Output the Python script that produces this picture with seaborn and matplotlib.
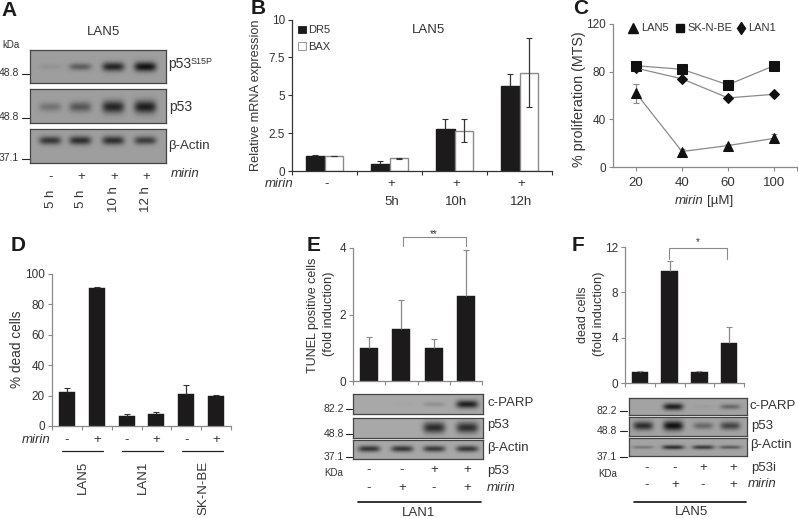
import numpy as np
import pandas as pd
import matplotlib
matplotlib.use('Agg')
import matplotlib.pyplot as plt
from matplotlib.lines import Line2D
from matplotlib.patches import Patch
import seaborn as sns

# panel B
b_groups = ['ctrl', '5h', '10h', '12h']
b_dr5 = [1.0, 0.45, 2.75, 5.6]
b_dr5_err = [0.04, 0.22, 0.65, 0.8]
b_bax = [1.0, 0.85, 2.65, 6.5]
b_bax_err = [0.02, 0.03, 0.75, 2.3]
b_signs = ['-', '+', '+', '+']
b_times = ['', '5h', '10h', '12h']

# panel C
c_doses = ['20', '40', '60', '100']
c_lan5 = [62, 13, 18, 24]
c_lan5_err = [8, 2, 1.5, 4]
c_sknbe = [85, 82, 69, 85]
c_lan1 = [83, 74, 58, 61]

# panel D
d_bars = ['LAN5-', 'LAN5+', 'LAN1-', 'LAN1+', 'SK-', 'SK+']
d_vals = [22.5, 91, 6.5, 8, 21, 20]
d_err = [2.5, 0.7, 1.5, 1.5, 6, 0.2]
d_signs = ['-', '+', '-', '+', '-', '+']
d_lines = ['LAN5', 'LAN1', 'SK-N-BE']

# panel E and F
e_bars = ['a', 'b', 'c', 'd']
e_vals = [1, 1.55, 1, 2.55]
e_err = [0.32, 0.9, 0.25, 1.4]
f_vals = [1, 9.9, 1, 3.5]
f_err = [0.05, 0.9, 0.05, 1.45]
top_signs = ['-', '-', '+', '+']
low_signs = ['-', '+', '-', '+']

# band strength per lane for the blots
a_p53s15 = [0.08, 0.45, 0.85, 0.98]
a_p53 = [0.3, 0.5, 0.85, 0.9]
a_actin = [0.72, 0.78, 0.78, 0.68]
a_times = ['5 h', '5 h', '10 h', '12 h']
a_signs = ['-', '+', '+', '+']
e_parp = [0.0, 0.02, 0.15, 0.9]
e_p53 = [0.0, 0.0, 0.82, 0.8]
e_actin = [0.75, 0.75, 0.72, 0.75]
f_parp = [0.0, 0.9, 0.05, 0.4]
f_p53 = [0.8, 1.0, 0.4, 0.65]
f_actin = [0.3, 0.8, 0.72, 0.5]

W, H = 799, 518
DARK = '#1c1a1b'
GREY = '#8a8a8a'
TXT = '#333333'

sns.set_style('ticks')
plt.rcParams['font.family'] = ['Liberation Sans', 'DejaVu Sans']
plt.rcParams['font.size'] = 8.5
fig = plt.figure(figsize=(W / 100, H / 100), dpi=100, facecolor='white')


def T(x, y, s, size=8.5, ha='center', va='center', **kw):
    kw.setdefault('color', TXT)
    fig.text(x / W, 1 - y / H, s, fontsize=size, ha=ha, va=va, **kw)


def L(xs, ys, color='#222222', lw=0.8):
    fig.add_artist(Line2D([x / W for x in xs], [1 - y / H for y in ys], color=color, lw=lw))


def axes_px(x0, x1, ytop, ybot):
    ax = fig.add_axes([x0 / W, 1 - ybot / H, (x1 - x0) / W, (ybot - ytop) / H])
    ax.patch.set_alpha(0)
    sns.despine(ax=ax)
    for side in ['left', 'bottom']:
        ax.spines[side].set_color(GREY)
        ax.spines[side].set_linewidth(0.9)
    ax.tick_params(length=3, width=0.8, color=GREY, labelsize=8.5, labelcolor=TXT, pad=2)
    return ax


def up_err(ax, xs, vals, errs, color, lw=0.9):
    # only the upper cap, like the figure
    _, caps, _ = ax.errorbar(xs, vals, yerr=[[0] * len(errs), errs], fmt='none',
                             ecolor=color, elinewidth=lw, capsize=2.5, capthick=0.8)
    caps[0].remove()


def bars(ax, names, vals, errs, width, err_color='#333333'):
    df = pd.DataFrame({'name': names, 'val': vals})
    sns.barplot(data=df, x='name', y='val', color=DARK, saturation=1, width=width,
                edgecolor=DARK, linewidth=0.3, ax=ax, errorbar=None)
    up_err(ax, range(len(names)), vals, errs, err_color)
    ax.set_xlim(-0.5, len(names) - 0.5)
    ax.set_xlabel('')
    ax.set_ylabel('')
    ax.set_xticks(np.arange(len(names) + 1) - 0.5)
    ax.set_xticklabels([])


def blot(x0, x1, ytop, ybot, lanes, strengths, sy, sx=11, yc=0.5, bg=0.62):
    h, w = int(ybot - ytop) * 2, int(x1 - x0) * 2
    yy, xx = np.mgrid[0:h, 0:w]
    xx = xx / 2 + x0
    yy = yy / 2 + ytop
    img = np.zeros((h, w))
    yc_px = ytop + yc * (ybot - ytop)
    for lane, s in zip(lanes, strengths):
        # stronger bands look thicker
        band_y = sy * (0.6 + 0.6 * s)
        img += s * np.exp(-((xx - lane) / sx) ** 4 - ((yy - yc_px) / band_y) ** 2)
    img = bg * (1 - 0.9 * np.clip(img, 0, 1))
    ax = fig.add_axes([x0 / W, 1 - ybot / H, (x1 - x0) / W, (ybot - ytop) / H])
    ax.imshow(img, cmap='gray', vmin=0, vmax=1, aspect='auto', interpolation='bilinear')
    ax.set_xticks([])
    ax.set_yticks([])
    for sp in ax.spines.values():
        sp.set_visible(True)
        sp.set_color('#444444')
        sp.set_linewidth(0.9)


# panel letters
for x, y, s in [(1, 10, 'A'), (251, 8, 'B'), (573, 8, 'C'), (11, 246, 'D'), (307, 246, 'E'), (572, 246, 'F')]:
    T(x, y, s, size=15, ha='left', fontweight='bold', color='#1a1a1a')

# A
a_lanes = [50, 80, 113, 145]
blot(30, 166, 50, 83, a_lanes, a_p53s15, 4, yc=0.5)
blot(30, 166, 89, 123, a_lanes, a_p53, 5.5, yc=0.52)
blot(30, 166, 129, 163, a_lanes, a_actin, 4, yc=0.33)
T(103, 32, 'LAN5', size=9.5)
T(2, 45, 'kDa', size=7, ha='left')
for y, s in [(73, '48.8'), (117, '48.8'), (158, '37.1')]:
    T(19, y, s, size=7.5, ha='right')
    L([22, 29], [y + 1, y + 1], lw=0.8)
T(168, 64, 'p53', size=10, ha='left')
T(191, 61, 'S15P', size=6.5, ha='left')
T(169, 107, 'p53', size=10, ha='left')
T(168, 146, 'β-Actin', size=9.5, ha='left')
T(171, 174, 'mirin', size=9.5, ha='left', style='italic')
for lane, sign, t in zip(a_lanes, a_signs, a_times):
    T(lane + 1, 177, sign, size=9.5)
    T(lane + 1, 199, t, size=9.5, rotation=90)

# B
ax = axes_px(292, 552, 19.5, 171)
long_b = pd.DataFrame({'group': b_groups * 2, 'val': b_dr5 + b_bax,
                       'gene': ['DR5'] * 4 + ['BAX'] * 4})
sns.barplot(data=long_b, x='group', y='val', hue='gene', palette={'DR5': DARK, 'BAX': 'white'},
            saturation=1, width=0.575, edgecolor=GREY, linewidth=1, errorbar=None, legend=False, ax=ax)
for p in ax.containers[0]:
    p.set_edgecolor(DARK)
xs = np.arange(4)
up_err(ax, xs - 0.144, b_dr5, b_dr5_err, '#333333')
ax.errorbar(xs + 0.144, b_bax, yerr=b_bax_err, fmt='none', ecolor='#333333',
            elinewidth=0.9, capsize=2.5, capthick=0.8)
ax.set_xlim(-0.5, 3.5)
ax.set_ylim(0, 10)
ax.set_xlabel('')
ax.set_ylabel('')
ax.set_xticks(np.arange(5) - 0.5)
ax.set_xticklabels([])
ax.set_yticks([0, 2.5, 5, 7.5, 10])
ax.set_yticklabels(['0', '2.5', '5', '7.5', '10'])
ax.spines['left'].set_color('#333333')
ax.spines['bottom'].set_color('#333333')
ax.tick_params(color='#333333')
ax.legend(handles=[Patch(facecolor=DARK, edgecolor=DARK, linewidth=0.6, label='DR5'),
                   Patch(facecolor='white', edgecolor=GREY, linewidth=0.6, label='BAX')],
          loc='upper left', bbox_to_anchor=(0.005, 0.99), frameon=False, fontsize=8, labelcolor=TXT,
          handlelength=0.7, handleheight=0.7, handletextpad=0.25, labelspacing=0.6, borderpad=0.2, borderaxespad=0.2)
T(429, 30, 'LAN5', size=9.5)
T(256, 95, 'Relative mRNA expression', size=9.2, rotation=90)
T(279, 184, 'mirin', size=9.5, style='italic', ha='center')
for i, (sign, t) in enumerate(zip(b_signs, b_times)):
    cx = 324.5 + 65 * i
    T(cx + 2, 184, sign, size=9.5)
    T(cx + 2, 202, t, size=9.5)

# C
ax = axes_px(613, 797, 24, 167)
for vals, marker, size in [(c_lan5, '^', 7), (c_sknbe, 's', 6.5), (c_lan1, 'D', 5)]:
    sns.lineplot(x=c_doses, y=vals, sort=False, color=GREY, linewidth=0.9, marker=marker,
                 markersize=size, markerfacecolor='#111111', markeredgecolor='#111111', ax=ax, errorbar=None)
ax.errorbar(c_doses, c_lan5, yerr=c_lan5_err, fmt='none', ecolor=GREY, elinewidth=0.9, capsize=2.5, capthick=0.8, zorder=1)
ax.set_xlim(-0.5, 3.5)
ax.set_ylim(0, 120)
ax.set_xticks([0, 1, 2, 3, 3.5])
ax.set_xticklabels(c_doses + [''])
ax.set_yticks([0, 40, 80, 120])
ax.tick_params(axis='x', labelsize=9.5, pad=4)
ax.tick_params(axis='y', labelsize=8.5)
ax.set_ylabel('')
T(579, 99, '% proliferation (MTS)', size=10.3, rotation=90)
T(689, 201, 'mirin', size=9.5, style='italic')
T(720, 201, '[µM]', size=9.5)
for m, s, x_m, x_t, name in zip(['^', 's', 'd'], [6.5, 6, 6], [633, 680, 741], [641, 687, 748],
                                ['LAN5', 'SK-N-BE', 'LAN1']):
    fig.add_artist(Line2D([x_m / W], [1 - 28 / H], ls='', marker=m, color='#111111', markersize=s))
    T(x_t, 28, name, size=8, ha='left')

# D
ax = axes_px(52, 231, 274, 426)
bars(ax, d_bars, d_vals, d_err, 0.54)
ax.set_ylim(0, 100)
ax.set_yticks(range(0, 101, 20))
T(17, 349, '% dead cells', size=9.8, rotation=90)
T(36, 440, 'mirin', size=9.5, style='italic')
for i, sign in enumerate(d_signs):
    T(67 + 29.8 * i, 440, sign, size=9.5)
for i, name in enumerate(d_lines):
    L([62 + 60 * i, 103 + 60 * i], [451, 451], lw=0.9)
    T(83 + 60 * i, 461, name, size=9.5, rotation=90, va='top')

# E
ax = axes_px(353, 482, 248, 381)
bars(ax, e_bars, e_vals, e_err, 0.56, err_color=GREY)
ax.set_ylim(0, 4)
ax.set_yticks([0, 2, 4])
T(313, 315, 'TUNEL positive cells', size=9, rotation=90)
T(329, 314, '(fold induction)', size=9.3, rotation=90)
L([403, 403, 466, 466], [246, 237, 237, 246], color=GREY)
T(434, 234, '**', size=7)

e_lanes = [369, 402, 434, 467]
blot(353, 483, 394, 414, e_lanes, e_parp, 3.5, yc=0.5, bg=0.66)
blot(353, 483, 418, 438, e_lanes, e_p53, 5, yc=0.47, bg=0.66)
blot(353, 483, 440, 459, e_lanes, e_actin, 3, yc=0.45, bg=0.66)
for y, s in [(409, '82.2'), (434, '48.8'), (457, '37.1')]:
    T(344, y, s, size=7.5, ha='right')
    L([346, 352], [y, y], lw=0.8)
T(487, 403, 'c-PARP', size=9.5, ha='left')
T(487, 425, 'p53', size=9.5, ha='left')
T(487, 448, 'β-Actin', size=9.5, ha='left')
T(334, 473, 'KDa', size=7, ha='center')
T(487, 471, 'p53', size=9.5, ha='left')
T(487, 488, 'mirin', size=9.5, ha='left', style='italic')
for lane, a, b in zip(e_lanes, top_signs, low_signs):
    T(lane, 470, a, size=9.5)
    T(lane, 488, b, size=9.5)
L([358, 481], [502, 502], color='#111111', lw=1.2)
T(419, 513, 'LAN1', size=9.5)

# F
ax = axes_px(625, 744, 247, 383)
bars(ax, e_bars, f_vals, f_err, 0.56, err_color=GREY)
ax.set_ylim(0, 12)
ax.set_yticks([0, 4, 8, 12])
T(583, 315, 'dead cells', size=9, rotation=90)
T(599, 314, '(fold induction)', size=9.3, rotation=90)
L([669, 669, 727, 727], [259, 248, 248, 259], color=GREY)
T(698, 242, '*', size=7)

f_lanes = [643, 673, 703, 730]
blot(629, 747, 398, 415, f_lanes, f_parp, 3, yc=0.5, sx=10, bg=0.64)
blot(629, 747, 417, 436, f_lanes, f_p53, 4, yc=0.45, sx=10, bg=0.64)
blot(629, 747, 438, 456, f_lanes, f_actin, 2, yc=0.5, sx=11, bg=0.64)
for y, s in [(411, '82.2'), (431, '48.8'), (457, '37.1')]:
    T(617, y, s, size=7.5, ha='right')
    L([620, 627], [y, y], lw=0.8)
T(750, 406, 'c-PARP', size=9.5, ha='left')
T(751, 426, 'p53', size=9.5, ha='left')
T(750, 445, 'β-Actin', size=9.5, ha='left')
T(608, 474, 'KDa', size=7, ha='center')
T(751, 468, 'p53i', size=9.5, ha='left')
T(748, 484, 'mirin', size=9.5, ha='left', style='italic')
for lane, a, b in zip([647, 675, 703, 733], top_signs, low_signs):
    T(lane, 468, a, size=9.5)
    T(lane, 485, b, size=9.5)
L([634, 746], [502, 502], color='#111111', lw=1.2)
T(691, 512, 'LAN5', size=9.5)

fig.savefig('out.png', dpi=100)
